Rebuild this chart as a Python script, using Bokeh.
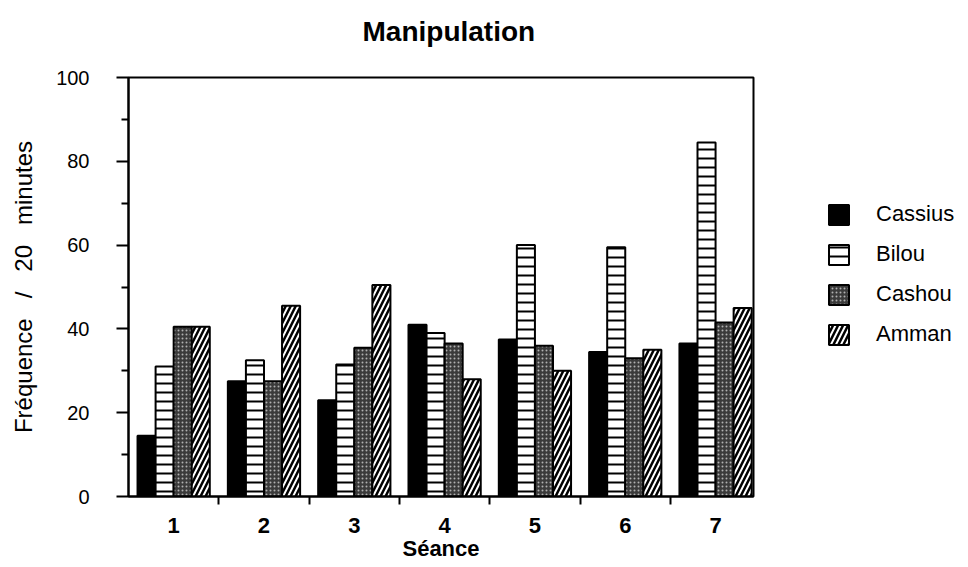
import numpy as np
from bokeh.plotting import figure
from bokeh.models import Range1d, FixedTicker, Legend, LegendItem, Title
from bokeh.embed import file_html
from bokeh.resources import INLINE

seances = ["1", "2", "3", "4", "5", "6", "7"]
cassius = [14.5, 27.5, 23, 41, 37.5, 34.5, 36.5]
bilou = [31, 32.5, 31.5, 39, 60, 59.5, 84.5]
cashou = [40.5, 27.5, 35.5, 36.5, 36, 33, 41.5]
amman = [40.5, 45.5, 50.5, 28, 30, 35, 45]
series_names = ["Cassius", "Bilou", "Cashou", "Amman"]
y_ticks = [0, 20, 40, 60, 80, 100]
y_minor = [10, 30, 50, 70, 90]
title_text = "Manipulation"

FONT = "Liberation Sans"

p = figure(title=None, frame_width=625, frame_height=419, output_backend="svg", toolbar_location=None,
           x_range=Range1d(0, 6.92), y_range=Range1d(0, 100),
           min_border_left=128, min_border_right=199, min_border_top=77, min_border_bottom=66)

# spacer (closest to the frame), then the real title above it
p.add_layout(Title(text="\u00a0", text_font=FONT, text_font_size="24px", standoff=0), "above")
p.add_layout(Title(text=title_text, text_font=FONT, text_font_size="28px", text_font_style="bold",
                   text_color="black", align="left", offset=234, standoff=4), "above")

p.grid.visible = False
p.outline_line_color = "black"
p.outline_line_width = 2
p.background_fill_color = "white"
p.border_fill_color = "white"

centers = np.arange(len(seances)) + 0.5
offsets = [-0.3, -0.1, 0.1, 0.3]
styles = [
    dict(fill_color="black"),
    dict(fill_color="white", hatch_pattern="horizontal_line", hatch_color="black", hatch_scale=9, hatch_weight=2),
    dict(fill_color="#3a3a3a", hatch_pattern="dot", hatch_color="#b0b0b0", hatch_scale=4, hatch_weight=1),
    dict(fill_color="white", hatch_pattern="right_diagonal_line", hatch_color="black", hatch_scale=10, hatch_weight=2.5),
]
renderers = []
for vals, off, st in zip([cassius, bilou, cashou, amman], offsets, styles):
    r = p.vbar(x=centers + off, top=vals, bottom=0, width=0.2,
               line_color="black", line_width=2, **st)
    renderers.append(r)

# x axis
xa = p.xaxis[0]
xa.ticker = FixedTicker(ticks=list(centers), minor_ticks=list(range(1, len(seances))))
xa.major_label_overrides = {float(c): s for c, s in zip(centers, seances)}
xa.major_tick_out = 0
xa.major_tick_in = 0
xa.minor_tick_out = 8
xa.minor_tick_in = 0
xa.minor_tick_line_width = 2
xa.axis_line_width = 2
xa.major_label_text_font = FONT
xa.major_label_text_font_size = "22px"
xa.major_label_text_font_style = "bold"
xa.major_label_text_color = "black"
xa.major_label_standoff = 13
xa.axis_label = "Séance"
xa.axis_label_text_font = FONT
xa.axis_label_text_font_size = "22px"
xa.axis_label_text_font_style = "bold"
xa.axis_label_text_color = "black"
xa.axis_label_standoff = 0

# y axis
ya = p.yaxis[0]
ya.ticker = FixedTicker(ticks=y_ticks, minor_ticks=y_minor)
ya.major_tick_out = 12
ya.major_tick_in = 0
ya.minor_tick_out = 7
ya.minor_tick_in = 0
ya.major_tick_line_width = 2
ya.minor_tick_line_width = 2
ya.axis_line_width = 2
ya.major_label_text_font = FONT
ya.major_label_text_font_size = "20px"
ya.major_label_text_color = "black"
ya.major_label_standoff = 27
ya.axis_label = "Fréquence\u00a0\u00a0 /\u00a0\u00a0 20\u00a0\u00a0 minutes"
ya.axis_label_text_font = FONT
ya.axis_label_text_font_size = "24px"
ya.axis_label_text_font_style = "normal"
ya.axis_label_text_color = "black"
ya.axis_label_standoff = 16

legend = Legend(items=[LegendItem(label=n, renderers=[r]) for n, r in zip(series_names, renderers)],
                location=(73, 149))
legend.glyph_width = 25
legend.glyph_height = 25
legend.label_standoff = 25
legend.spacing = 14
legend.padding = 0
legend.margin = 0
legend.border_line_alpha = 0
legend.background_fill_alpha = 0
legend.label_text_font = FONT
legend.label_text_font_size = "22px"
legend.label_text_color = "black"
p.add_layout(legend, "right")

open("out.html", "w").write(file_html(p, INLINE))
